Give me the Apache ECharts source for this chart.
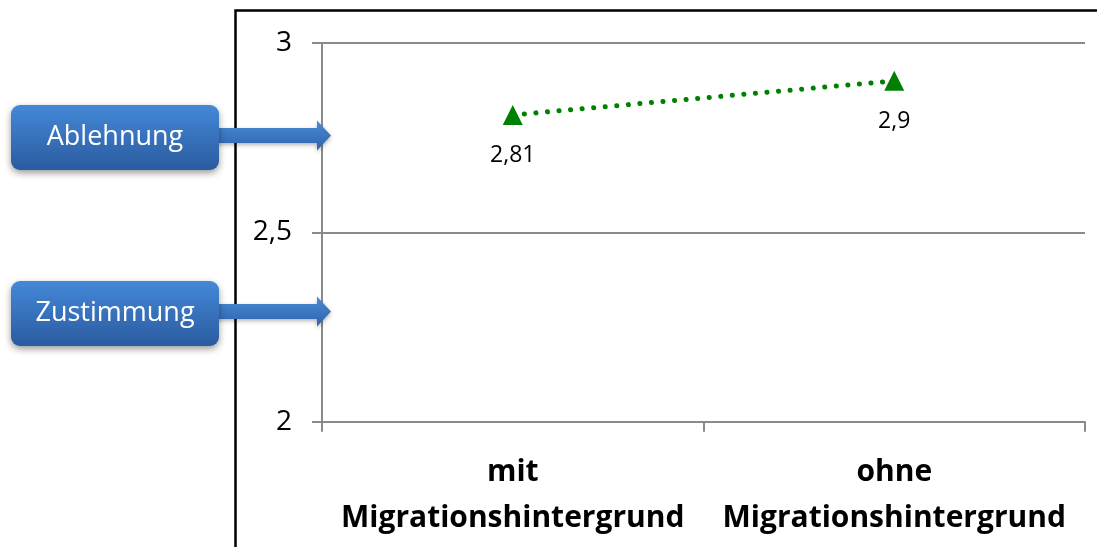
<!DOCTYPE html>
<html>
<head>
<meta charset="utf-8">
<script src="https://cdn.jsdelivr.net/npm/echarts@6/dist/echarts.min.js"></script>
<style>
  html, body { margin: 0; padding: 0; background: #fff; }
  #chart { width: 1097px; height: 547px; }
</style>
</head>
<body>
<div id="chart"></div>
<script>
// Mean scores by group
const categories = ['mit\nMigrationshintergrund', 'ohne\nMigrationshintergrund'];
const values = [2.81, 2.9];
const yTicks = { min: 2, max: 3, step: 0.5 };
const sideLabels = ['Ablehnung', 'Zustimmung'];

const FONT = '"Open Sans", "Noto Sans", sans-serif';
const deComma = v => String(v).replace('.', ',');

// Blue button with an arrow pointing into the plot
function callout(text, top, h) {
  const midY = top + h / 2 - 2;
  const boxFill = new echarts.graphic.LinearGradient(0, 0, 0, 1, [
    { offset: 0, color: '#4488d8' },
    { offset: 1, color: '#2b5b9f' }
  ]);
  const arrowFill = new echarts.graphic.LinearGradient(0, 0, 0, 1, [
    { offset: 0, color: '#4a8ad6' },
    { offset: 1, color: '#2f64ab' }
  ]);
  return [
    {
      type: 'polygon',
      z: 10,
      shape: {
        points: [
          [215, midY - 7.5], [317, midY - 7.5], [317, midY - 15],
          [331, midY], [317, midY + 15], [317, midY + 7.5], [215, midY + 7.5]
        ]
      },
      style: { fill: arrowFill, shadowBlur: 4, shadowOffsetY: 2, shadowColor: 'rgba(0,0,0,0.3)' }
    },
    {
      type: 'rect',
      z: 11,
      shape: { x: 11, y: top, width: 208, height: h, r: 9 },
      style: { fill: boxFill, shadowBlur: 7, shadowOffsetY: 3, shadowColor: 'rgba(0,0,0,0.4)' }
    },
    {
      type: 'text',
      z: 12,
      style: {
        x: 115, y: top + h / 2, text: text, fill: '#ffffff',
        font: '27px ' + FONT, align: 'center', verticalAlign: 'middle'
      }
    }
  ];
}

const chart = echarts.init(document.getElementById('chart'), null, { renderer: 'canvas' });

chart.setOption({
  animation: false,
  backgroundColor: '#ffffff',
  grid: { left: 322, right: 12, top: 43, height: 378.7 },
  xAxis: {
    type: 'category',
    data: categories,
    boundaryGap: true,
    axisLine: { lineStyle: { color: '#8a8a8a', width: 2 } },
    axisTick: { show: true, length: 10, lineStyle: { color: '#8a8a8a', width: 2 } },
    axisLabel: {
      interval: 0,
      color: '#000', fontFamily: FONT, fontWeight: 'bold', fontSize: 30,
      lineHeight: 46, margin: 28
    }
  },
  yAxis: {
    type: 'value',
    min: yTicks.min, max: yTicks.max, interval: yTicks.step,
    axisLine: { show: true, lineStyle: { color: '#8a8a8a', width: 2 } },
    axisTick: { show: true, length: 10, lineStyle: { color: '#8a8a8a', width: 2 } },
    splitLine: { lineStyle: { color: '#8a8a8a', width: 2 } },
    axisLabel: {
      color: '#000', fontFamily: FONT, fontSize: 28, margin: 30,
      formatter: v => deComma(v)
    }
  },
  series: [{
    type: 'line',
    data: values,
    symbol: 'triangle',
    symbolSize: 20,
    itemStyle: { color: '#008000' },
    lineStyle: { color: '#008000', width: 5, type: [0.1, 11.5], cap: 'round' },
    label: {
      show: true, position: 'bottom', distance: 19,
      color: '#000', fontFamily: FONT, fontSize: 23,
      formatter: p => deComma(p.value)
    }
  }],
  graphic: [
    {
      type: 'rect',
      z: 5,
      shape: { x: 235.5, y: 10.5, width: 1000, height: 700 },
      style: { fill: 'none', stroke: '#000', lineWidth: 2.5 }
    },
    ...callout(sideLabels[0], 105, 65),
    ...callout(sideLabels[1], 281, 65)
  ]
});
</script>
</body>
</html>
